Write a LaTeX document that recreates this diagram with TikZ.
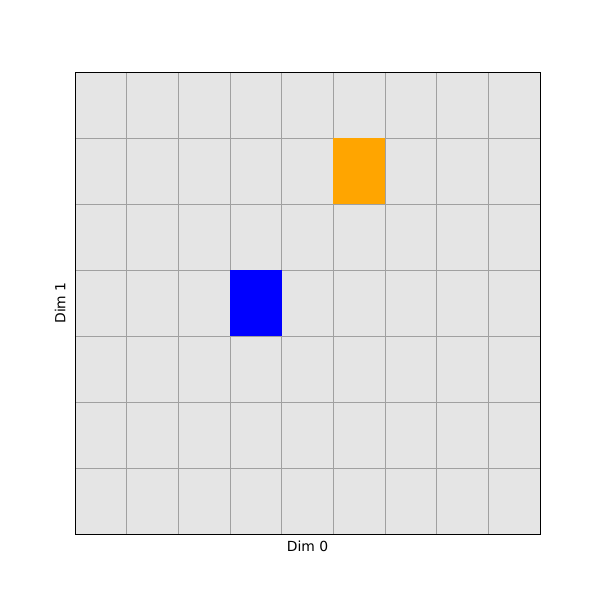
\documentclass[tikz,border=0pt]{standalone}
\usepackage{fontspec}
\setmainfont{DejaVu Sans}
\usepackage{xcolor}
\usetikzlibrary{positioning,calc}

\definecolor{cellbg}{HTML}{E5E5E5}
\definecolor{gridln}{HTML}{A0A0A0}
\definecolor{goalorange}{HTML}{FFA500}

\tikzset{
    axlabel/.style={font=\fontsize{6.95}{8}\selectfont, inner sep=0pt},
    gridline/.style={draw=gridln, line width=0.5pt}
}

\begin{document}
\begin{tikzpicture}[x=0.5pt, y=-0.5pt]
    \useasboundingbox (0,0) rectangle (600,600);
    % cells: 9 columns x 7 rows
    \def\cw{51.667}
    \def\ch{66}
    \fill[cellbg] (75,72) rectangle (540,534);

    % grid
    \foreach \i in {1,...,8}
        \draw[gridline] (75+\i*\cw,72) -- (75+\i*\cw,534);
    \foreach \j in {1,...,6}
        \draw[gridline] (75,72+\j*\ch) -- (540,72+\j*\ch);

    % filled squares (on top of the grid)
    \fill[goalorange] (75+5*\cw,72+1*\ch) rectangle (75+6*\cw,72+2*\ch);
    \fill[blue] (75+3*\cw,72+3*\ch) rectangle (75+4*\cw,72+4*\ch);

    % frame
    \draw[line width=0.5pt] (75,72) rectangle (540,534);

    \node[axlabel] (dimx) at (307.5,546) {Dim 0};
    \node[axlabel, rotate=90] (dimy) at (60,303) {Dim 1};
\end{tikzpicture}
\end{document}
